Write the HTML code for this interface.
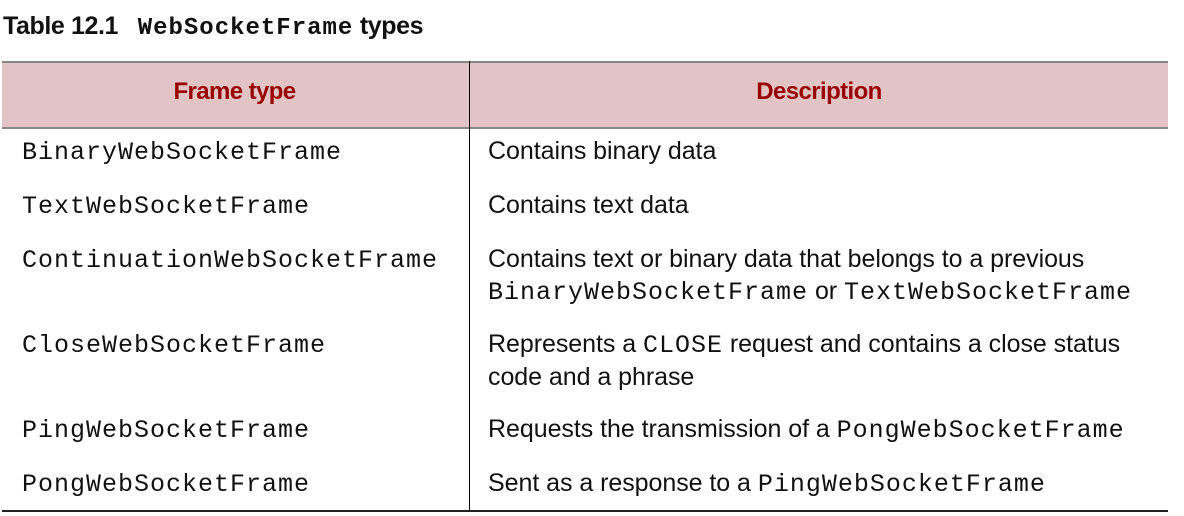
<!DOCTYPE html>
<html><head><style>
body{margin:0;width:1184px;height:516px;background:#fff;position:relative;overflow:hidden;font-family:"Liberation Sans",sans-serif;color:#111}
.a{position:absolute;white-space:nowrap;line-height:1}
.m{font-family:"Liberation Mono",monospace;font-size:25px;letter-spacing:1px}
.s{font-size:25px;letter-spacing:-0.05px}
.s .m{font-size:25px;letter-spacing:1px}
</style></head><body>
<div class="a" style="left:3px;top:14px;font-size:25px;font-weight:bold;letter-spacing:-0.4px">Table 12.1&nbsp;&nbsp; <span style="font-family:'Liberation Mono',monospace;font-size:24px;letter-spacing:1px">WebSocketFrame</span> types</div>
<div style="position:absolute;left:2px;top:61px;width:1166px;height:64px;background:#e3c4c6;border-top:2px solid #888;border-bottom:2px solid #888"></div>
<div style="position:absolute;left:469px;top:61px;width:1px;height:451px;background:#000"></div>
<div style="position:absolute;left:2px;top:510px;width:1166px;height:2px;background:#222"></div>
<div class="a" style="left:0;width:469px;text-align:center;top:80px;font-size:24px;font-weight:bold;color:#990000;letter-spacing:-0.6px">Frame type</div>
<div class="a" style="left:470px;width:698px;text-align:center;top:80px;font-size:24px;font-weight:bold;color:#990000;letter-spacing:-0.6px">Description</div>

<div class="a m" style="left:22px;top:140px">BinaryWebSocketFrame</div>
<div class="a m" style="left:22px;top:194px">TextWebSocketFrame</div>
<div class="a m" style="left:22px;top:248px">ContinuationWebSocketFrame</div>
<div class="a m" style="left:22px;top:333px">CloseWebSocketFrame</div>
<div class="a m" style="left:22px;top:418px">PingWebSocketFrame</div>
<div class="a m" style="left:22px;top:472px">PongWebSocketFrame</div>

<div class="a s" style="left:488px;top:139px">Contains binary data</div>
<div class="a s" style="left:488px;top:193px">Contains text data</div>
<div class="a s" style="left:488px;top:247px">Contains text or binary data that belongs to a previous</div>
<div class="a s" style="left:488px;top:279px"><span class="m">BinaryWebSocketFrame</span> or <span class="m">TextWebSocketFrame</span></div>
<div class="a s" style="left:488px;top:332px">Represents a <span class="m">CLOSE</span> request and contains a close status</div>
<div class="a s" style="left:488px;top:365px">code and a phrase</div>
<div class="a s" style="left:488px;top:417px">Requests the transmission of a <span class="m">PongWebSocketFrame</span></div>
<div class="a s" style="left:488px;top:471px">Sent as a response to a <span class="m">PingWebSocketFrame</span></div>
</body></html>
